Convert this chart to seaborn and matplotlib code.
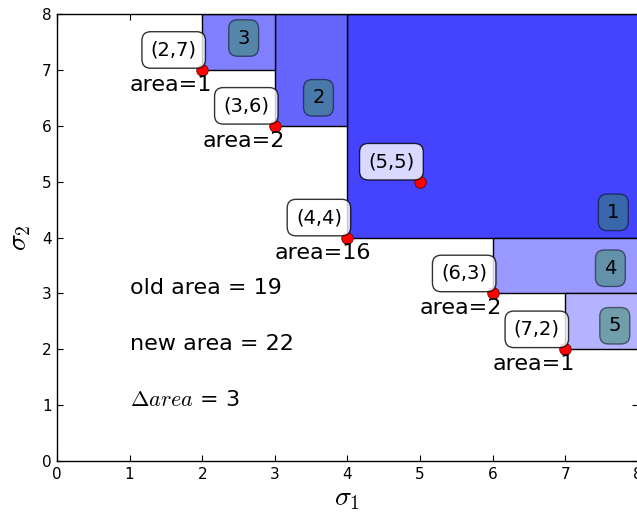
import matplotlib
matplotlib.use("Agg")
import matplotlib.pyplot as plt
import seaborn as sns

# Corner points of the staircase front
pt_x = [2, 3, 4, 5, 6, 7]
pt_y = [7, 6, 4, 5, 3, 2]
pt_labels = ["(2,7)", "(3,6)", "(4,4)", "(5,5)", "(6,3)", "(7,2)"]

# Area attributed to each point (None: no label)
area_vals = [1, 2, 16, None, 2, 1]

# Dominated regions, numbered 1..5
rect_ids = ["1", "2", "3", "4", "5"]
rect_left = [4, 3, 2, 6, 7]
rect_bottom = [4, 6, 7, 3, 2]
rect_width = [4, 1, 1, 2, 1]
rect_height = [4, 2, 1, 1, 1]
rect_colors = ["#4444ff", "#6666ff", "#8080ff", "#9999ff", "#b3b3ff"]
rect_label_x = [7.66, 3.6, 2.57, 7.62, 7.68]
rect_label_y = [4.45, 6.5, 7.57, 3.45, 2.42]

# Summary text block
summary_lines = ["old area = 19", "new area = 22", r"$\Delta area$ = 3"]
summary_x = 1.0
summary_y = [3.1, 2.1, 1.1]

sns.set_style("ticks")
plt.rcParams["font.family"] = ["DejaVu Sans"]
plt.rcParams["mathtext.fontset"] = "cm"
plt.rcParams["text.color"] = "black"
plt.rcParams["axes.labelcolor"] = "black"
plt.rcParams["xtick.color"] = "black"
plt.rcParams["ytick.color"] = "black"

fig = plt.figure(figsize=(6.37, 5.15), dpi=100)
ax = fig.add_axes([57 / 637, 54 / 515, 581 / 637, 447 / 515])

# Regions as bars anchored at their lower-left corners
ax.bar(rect_left, rect_height, width=rect_width, bottom=rect_bottom,
       align="edge", color=rect_colors, edgecolor="black", linewidth=1,
       zorder=1)

for rid, lx, ly in zip(rect_ids, rect_label_x, rect_label_y):
    ax.text(lx, ly, rid, fontsize=14, ha="center", va="center", zorder=4,
            bbox=dict(boxstyle="round,pad=0.45", facecolor="seagreen",
                      edgecolor="black", linewidth=1, alpha=0.5))

sns.scatterplot(x=pt_x, y=pt_y, color="red", s=70, edgecolor="#550000",
                linewidth=0.5, ax=ax, zorder=3, legend=False)

for x, y, lbl, a in zip(pt_x, pt_y, pt_labels, area_vals):
    ax.annotate(lbl, xy=(x, y), xytext=(-4, 7.5),
                textcoords="offset points", ha="right", va="bottom",
                fontsize=14, zorder=5,
                bbox=dict(boxstyle="round,pad=0.45", facecolor="white",
                          edgecolor="black", linewidth=1, alpha=0.8))
    if a is not None:
        ax.text(x - 1, y - 0.27, f"area={a}", fontsize=16,
                ha="left", va="center", zorder=5)

for line, sy in zip(summary_lines, summary_y):
    ax.text(summary_x, sy, line, fontsize=16, ha="left", va="center")

ax.set_xlim(0, 8)
ax.set_ylim(0, 8)
ax.set_xticks(range(0, 9))
ax.set_yticks(range(0, 9))
ax.tick_params(direction="in", top=True, right=True, length=4,
               labelsize=11, pad=4)
for sp in ax.spines.values():
    sp.set_color("black")
    sp.set_linewidth(1)

ax.set_xlabel(r"$\sigma_1$", fontsize=20, labelpad=2)
ax.set_ylabel(r"$\sigma_2$", fontsize=20, labelpad=6)

fig.savefig("out.png", dpi=100)
